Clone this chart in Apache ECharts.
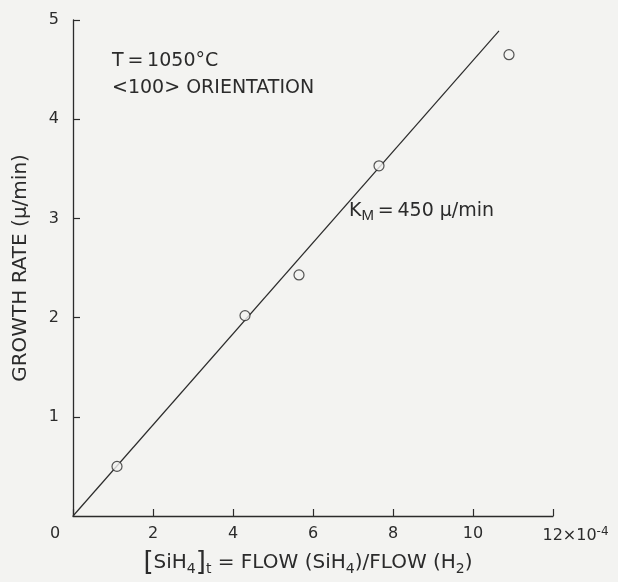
<!DOCTYPE html>
<html>
<head>
<meta charset="utf-8">
<script src="https://cdn.jsdelivr.net/npm/echarts@6/dist/echarts.min.js"></script>
<style>
html,body{margin:0;padding:0;background:#f3f3f1;overflow:hidden;}
#c{width:618px;height:582px;}
</style>
</head>
<body>
<div id="c"></div>
<script>
// Data
var flowRatio = [1.1, 4.3, 5.65, 7.65, 10.9];      // x, units of 1e-4
var growthRate = [0.5, 2.02, 2.43, 3.53, 4.65];     // µ/min
var fitX = [0, 10.65];
var fitY = [0, 4.89];
var xTicks = [0, 2, 4, 6, 8, 10, 12];
var yTicks = [1, 2, 3, 4, 5];

var ink = '#2b2b2b';
var font = 'DejaVu Sans';

var chart = echarts.init(document.getElementById('c'), null, {width: 618, height: 582});
chart.setOption({
  backgroundColor: '#f3f3f1',
  animation: false,
  textStyle: {fontFamily: font, color: ink},
  grid: {left: 73, right: 65, top: 20, bottom: 66, containLabel: false, outerBoundsMode: 'none'},
  xAxis: {
    type: 'value', min: 0, max: 12, interval: 2,
    axisLine: {lineStyle: {color: ink, width: 1.3}},
    axisTick: {inside: true, length: 7, lineStyle: {color: ink, width: 1.2}},
    splitLine: {show: false},
    axisLabel: {
      margin: 10, fontSize: 16, color: ink, fontFamily: font,
      formatter: function (v) {
        if (v === 0) return '{z|0}';
        if (v === 12) return '{e|12×10}{sup|-4}';
        return String(v);
      },
      rich: {
        z: {fontSize: 16, color: ink, padding: [0, 36, 0, 0]},
        e: {fontSize: 16, color: ink, padding: [0, 0, 0, 45]},
        sup: {fontSize: 12, color: ink, verticalAlign: 'top', padding: [0, 0, 8, 0]}
      }
    },
    name: '{b|[}SiH{s|4}{b|]}{s|t} = FLOW (SiH{s|4})/FLOW (H{s|2})',
    nameLocation: 'middle', nameGap: 34,
    nameTextStyle: {
      fontSize: 20, color: ink, fontFamily: font,
      padding: [0, 10, 0, 0],
      rich: {
        b: {fontSize: 26, color: ink, lineHeight: 26},
        s: {fontSize: 14, color: ink, verticalAlign: 'bottom', lineHeight: 16, padding: [9, 0, 0, 0]}
      }
    }
  },
  yAxis: {
    type: 'value', min: 0, max: 5, interval: 1,
    axisLine: {show: true, lineStyle: {color: ink, width: 1.3}},
    axisTick: {show: true, inside: true, length: 7, lineStyle: {color: ink, width: 1.2}},
    splitLine: {show: false},
    axisLabel: {margin: 14, fontSize: 16, color: ink, fontFamily: font, showMinLabel: false,
      formatter: function (v) { return yTicks.indexOf(v) >= 0 ? String(v) : ''; }},
    name: 'GROWTH RATE (μ/min)',
    nameLocation: 'middle', nameGap: 42, nameRotate: 90,
    nameTextStyle: {fontSize: 20, color: ink, fontFamily: font}
  },
  series: [
    {
      type: 'line', data: fitX.map(function (x, i) { return [x, fitY[i]]; }),
      symbol: 'none', lineStyle: {color: ink, width: 1.2}, z: 1
    },
    {
      type: 'scatter', data: flowRatio.map(function (x, i) { return [x, growthRate[i]]; }),
      symbol: 'circle', symbolSize: 10,
      itemStyle: {color: '#f3f3f1', borderColor: ink, borderWidth: 1.2}, z: 3
    }
  ],
  graphic: [
    {type: 'text', left: 112, top: 52, style: {text: 'T\u2009=\u20091050°C', font: '19px "DejaVu Sans"', fill: ink}},
    {type: 'text', left: 112, top: 79, style: {text: '<100> ORIENTATION', font: '19px "DejaVu Sans"', fill: ink}},
    {type: 'text', left: 349, top: 202, style: {
      text: 'K{s|M}\u2009=\u2009450 μ/min', font: '19px "DejaVu Sans"', fill: ink,
      rich: {s: {fontSize: 15, fill: ink, verticalAlign: 'bottom', padding: [9, 0, 0, 0]}}
    }}
  ]
});
</script>
</body>
</html>
